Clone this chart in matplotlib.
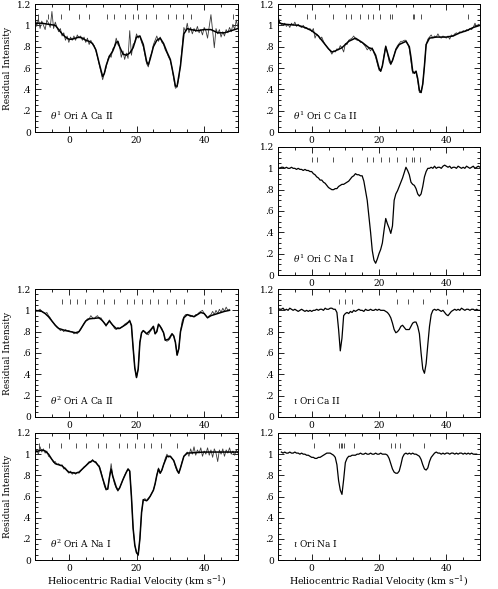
import numpy as np
import matplotlib
matplotlib.use('Agg')
import matplotlib.pyplot as plt
from matplotlib.ticker import MultipleLocator

plt.rcParams['font.family'] = 'DejaVu Serif'
plt.rcParams['mathtext.fontset'] = 'dejavuserif'
plt.rcParams['font.size'] = 6.5

# Sampling of the observed spectra (km/s)
V_STEP = 0.5

YTICKS = [0, 0.2, 0.4, 0.6, 0.8, 1.0, 1.2]
YTICK_LABELS = ['0', '.2', '.4', '.6', '.8', '1', '1.2']
XTICKS = [0, 20, 40]

# ---- theta1 Ori A  Ca II ----
t1a_ca_start = -10.0
t1a_ca_obs = [
    1.08, 0.99, 1.06, 0.97, 1.04, 1.00, 0.96, 1.05, 1.02, 0.98,
    1.13, 0.97, 1.03, 0.98, 0.94, 0.97, 0.90, 0.93, 0.86, 0.90,
    0.84, 0.89, 0.86, 0.90, 0.86, 0.91, 0.88, 0.90, 0.86, 0.89,
    0.84, 0.88, 0.82, 0.86, 0.82, 0.81, 0.76, 0.70, 0.63, 0.56,
    0.49, 0.55, 0.60, 0.68, 0.72, 0.70, 0.78, 0.80, 0.88, 0.82,
    0.80, 0.70, 0.76, 0.68, 0.74, 0.69, 0.95, 0.72, 0.82, 0.84,
    0.92, 0.88, 0.90, 0.84, 0.80, 0.72, 0.64, 0.61, 0.70, 0.74,
    0.82, 0.86, 0.90, 0.85, 0.89, 0.84, 0.82, 0.77, 0.74, 0.70,
    0.67, 0.60, 0.50, 0.41, 0.42, 0.50, 0.64, 0.80, 0.98, 0.94,
    1.02, 0.93, 0.98, 0.92, 0.97, 0.94, 0.99, 0.93, 0.96, 0.91,
    0.98, 0.95, 0.88, 0.99, 1.10, 0.95, 0.79, 0.97, 0.92, 0.96,
    0.89, 0.94, 0.90, 0.96, 0.93, 0.98, 0.94, 1.01, 0.96, 1.05,
    0.98]
t1a_ca_fit_v = [-10, -8, -6, -4, -3, -2, -1, 0, 1, 2, 3, 4, 5, 6, 7, 8, 9, 10,
                10.5, 11, 12, 13, 14, 14.5, 15, 16, 17, 18, 19, 20, 21, 22, 23,
                23.5, 24, 25, 26, 27, 28, 29, 30, 31, 31.5, 32, 33, 34, 35, 36,
                38, 40, 42, 44, 46, 48, 50]
t1a_ca_fit = [1.02, 1.02, 1.01, 1.00, 0.96, 0.92, 0.89, 0.87, 0.87, 0.88, 0.89,
              0.88, 0.86, 0.85, 0.83, 0.77, 0.64, 0.52, 0.55, 0.62, 0.71, 0.76,
              0.84, 0.85, 0.80, 0.73, 0.72, 0.74, 0.79, 0.89, 0.90, 0.82, 0.66,
              0.63, 0.68, 0.80, 0.86, 0.88, 0.83, 0.75, 0.68, 0.52, 0.43, 0.43,
              0.62, 0.92, 0.97, 0.96, 0.95, 0.96, 0.96, 0.93, 0.93, 0.95, 0.97]
t1a_ca_comp = [-9.2, -6.1, -2.4, 3.1, 6.0, 11.2, 13.4, 16.7, 18.9, 20.5, 22.8,
               25.9, 29.4, 31.6, 33.7, 36.1, 48.6]

# ---- theta1 Ori C  Ca II ----
t1c_ca_start = -10.0
t1c_ca_obs = [
    1.09, 1.03, 1.01, 1.00, 1.02, 0.99, 1.01, 0.98, 1.02, 1.00,
    1.03, 0.99, 1.01, 0.99, 0.98, 1.00, 0.97, 0.98, 0.96, 0.97,
    0.94, 0.97, 0.88, 0.92, 0.90, 0.87, 0.89, 0.85, 0.82, 0.80,
    0.78, 0.76, 0.73, 0.76, 0.75, 0.78, 0.77, 0.81, 0.79, 0.75,
    0.83, 0.82, 0.86, 0.87, 0.88, 0.90, 0.87, 0.86, 0.86, 0.84,
    0.84, 0.82, 0.80, 0.77, 0.79, 0.76, 0.79, 0.74, 0.70, 0.64,
    0.58, 0.57, 0.62, 0.72, 0.81, 0.74, 0.66, 0.63, 0.67, 0.72,
    0.78, 0.81, 0.83, 0.85, 0.85, 0.86, 0.86, 0.83, 0.78, 0.66,
    0.55, 0.56, 0.57, 0.48, 0.37, 0.37, 0.45, 0.62, 0.82, 0.87,
    0.89, 0.91, 0.88, 0.90, 0.89, 0.92, 0.89, 0.88, 0.90, 0.89,
    0.88, 0.90, 0.87, 0.91, 0.90, 0.92, 0.93, 0.92, 0.94, 0.93,
    0.95, 0.94, 0.96, 0.95, 0.97, 0.96, 0.98, 1.02, 0.99, 1.01,
    1.00]
t1c_ca_fit_v = [-10, -9.5, -8, -4, -2, 0, 2, 4, 5, 6, 7, 9, 11, 13, 15, 17, 18,
                19, 20, 20.5, 21, 22, 23, 23.5, 24, 25, 26, 28, 29, 29.5, 30,
                30.5, 31, 31.5, 32, 32.5, 33, 33.5, 34, 35, 37, 40, 42, 44, 46,
                48, 50]
t1c_ca_fit = [1.06, 1.02, 1.01, 1.00, 0.98, 0.95, 0.90, 0.82, 0.78, 0.75, 0.76,
              0.79, 0.85, 0.88, 0.84, 0.79, 0.78, 0.72, 0.60, 0.57, 0.62, 0.80,
              0.69, 0.64, 0.67, 0.77, 0.82, 0.85, 0.80, 0.70, 0.57, 0.55, 0.57,
              0.50, 0.39, 0.37, 0.45, 0.62, 0.82, 0.88, 0.89, 0.89, 0.90, 0.93,
              0.95, 0.98, 1.00]
t1c_ca_comp = [-1.5, 1.0, 6.4, 10.3, 11.6, 14.3, 16.6, 18.2, 20.2, 23.3, 23.8,
               30.0, 30.5, 32.5, 46.3]

# ---- theta1 Ori C  Na I ----
t1c_na_start = -10.0
t1c_na_obs = [
    1.01, 1.00, 1.01, 1.01, 1.00, 1.01, 1.00, 1.00, 1.01, 1.00,
    1.00, 0.99, 1.00, 0.99, 0.99, 0.98, 0.99, 0.98, 0.98, 0.97,
    0.97, 0.95, 0.94, 0.92, 0.91, 0.89, 0.89, 0.87, 0.86, 0.84,
    0.82, 0.81, 0.80, 0.80, 0.81, 0.81, 0.83, 0.84, 0.85, 0.85,
    0.86, 0.87, 0.88, 0.90, 0.92, 0.93, 0.95, 0.94, 0.94, 0.93,
    0.93, 0.88, 0.79, 0.70, 0.55, 0.40, 0.23, 0.14, 0.11, 0.15,
    0.20, 0.24, 0.30, 0.42, 0.53, 0.48, 0.44, 0.39, 0.46, 0.70,
    0.76, 0.79, 0.83, 0.87, 0.91, 0.96, 1.01, 0.98, 0.94, 0.87,
    0.85, 0.84, 0.81, 0.76, 0.74, 0.76, 0.83, 0.92, 0.97, 1.00,
    1.00, 1.01, 1.00, 1.02, 1.00, 1.01, 1.01, 1.00, 1.02, 1.03,
    1.02, 1.01, 1.02, 1.00, 1.01, 1.01, 1.00, 1.02, 1.01, 1.00,
    1.01, 1.00, 1.02, 1.01, 1.00, 1.01, 1.02, 1.00, 1.01, 1.02,
    1.01]
t1c_na_comp = [0.0, 1.5, 6.2, 12.0, 16.3, 18.2, 20.5, 22.9, 25.3, 27.9, 29.8,
               30.5, 32.3]

# ---- theta2 Ori A  Ca II ----
t2a_ca_start = -10.0
t2a_ca_obs = [
    1.01, 0.99, 1.00, 1.01, 0.99, 0.98, 0.97, 0.98, 0.95, 0.93,
    0.90, 0.88, 0.86, 0.84, 0.83, 0.81, 0.82, 0.80, 0.82, 0.81,
    0.81, 0.80, 0.80, 0.78, 0.79, 0.78, 0.80, 0.82, 0.85, 0.88,
    0.90, 0.92, 0.92, 0.95, 0.93, 0.92, 0.94, 0.95, 0.92, 0.93,
    0.90, 0.88, 0.85, 0.88, 0.91, 0.88, 0.86, 0.83, 0.82, 0.84,
    0.83, 0.84, 0.85, 0.87, 0.88, 0.89, 0.91, 0.85, 0.65, 0.46,
    0.37, 0.45, 0.70, 0.79, 0.81, 0.80, 0.78, 0.77, 0.80, 0.82,
    0.85, 0.78, 0.80, 0.87, 0.85, 0.83, 0.79, 0.72, 0.71, 0.72,
    0.74, 0.78, 0.76, 0.70, 0.58, 0.64, 0.80, 0.90, 0.94, 0.96,
    0.96, 0.95, 0.94, 0.95, 0.94, 0.96, 0.96, 0.98, 0.99, 1.00,
    0.97, 0.95, 0.93, 0.95, 0.96, 0.99, 0.96, 1.00, 0.97, 1.01,
    0.98, 1.02, 0.99, 1.03, 1.00, 1.01]
t2a_ca_fit_v = [-10, -8, -7, -6, -5, -4, -3, -1, 2, 3, 4, 5, 6, 9, 10, 11, 12,
                13, 14, 15, 17, 18, 18.5, 19, 19.5, 20, 20.5, 21, 21.5, 22, 23,
                24, 25, 25.5, 26, 26.5, 27, 28, 28.5, 29.5, 30.5, 31, 31.5, 32,
                32.5, 33, 34, 35, 37, 39, 40, 41, 42, 44, 46, 47.5]
t2a_ca_fit = [1.00, 0.99, 0.97, 0.94, 0.90, 0.86, 0.83, 0.81, 0.79, 0.80, 0.85,
              0.90, 0.92, 0.93, 0.90, 0.86, 0.90, 0.86, 0.83, 0.83, 0.87, 0.90,
              0.86, 0.65, 0.46, 0.37, 0.45, 0.70, 0.79, 0.81, 0.78, 0.81, 0.85,
              0.78, 0.80, 0.87, 0.85, 0.79, 0.72, 0.73, 0.78, 0.76, 0.70, 0.58,
              0.64, 0.80, 0.93, 0.96, 0.94, 0.98, 0.97, 0.93, 0.95, 0.97, 0.99,
              1.00]
t2a_ca_comp = [-2.0, 0.2, 2.4, 4.9, 8.3, 10.4, 13.4, 17.1, 19.2, 21.5, 23.9,
               26.3, 29.0, 31.7, 33.9, 40.0, 42.1]

# ---- iota Ori  Ca II ----
io_ca_start = -10.0
io_ca_obs = [
    1.02, 1.01, 1.01, 1.02, 1.00, 1.01, 1.00, 1.02, 1.01, 1.00,
    1.01, 1.00, 0.99, 1.00, 1.01, 1.00, 0.99, 1.00, 0.99, 1.00,
    0.99, 1.00, 1.00, 1.01, 1.00, 1.01, 1.01, 1.00, 1.02, 1.01,
    1.01, 1.02, 1.02, 1.01, 1.01, 0.98, 0.82, 0.62, 0.74, 0.95,
    0.97, 0.98, 0.97, 0.99, 0.98, 1.00, 0.99, 1.00, 1.01, 1.00,
    1.00, 0.99, 1.01, 1.00, 1.00, 1.01, 1.00, 1.00, 1.01, 1.00,
    1.01, 1.00, 1.00, 1.00, 0.99, 0.98, 0.96, 0.93, 0.88, 0.82,
    0.79, 0.80, 0.82, 0.85, 0.86, 0.84, 0.82, 0.82, 0.82, 0.85,
    0.88, 0.89, 0.89, 0.85, 0.78, 0.60, 0.45, 0.41, 0.50, 0.68,
    0.85, 0.96, 1.00, 1.01, 1.00, 1.01, 1.00, 0.99, 1.00, 0.98,
    0.96, 0.95, 0.97, 0.99, 1.00, 1.01, 1.00, 1.01, 1.00, 1.02,
    1.01, 1.00, 1.01, 1.01, 1.00, 1.01, 1.01, 1.00, 1.01, 1.00,
    1.00]
io_ca_comp = [8.2, 9.9, 12.0, 25.3, 28.6, 33.2, 40.2]

# ---- theta2 Ori A  Na I ----
t2a_na_start = -10.0
t2a_na_obs = [
    1.01, 1.04, 1.00, 1.07, 1.02, 1.05, 1.01, 1.03, 0.98, 0.97,
    0.95, 0.92, 0.93, 0.90, 0.91, 0.89, 0.90, 0.86, 0.87, 0.84,
    0.82, 0.84, 0.81, 0.83, 0.81, 0.83, 0.82, 0.84, 0.86, 0.88,
    0.89, 0.91, 0.93, 0.92, 0.95, 0.93, 0.93, 0.90, 0.89, 0.84,
    0.77, 0.70, 0.66, 0.67, 0.78, 0.91, 0.79, 0.72, 0.68, 0.65,
    0.68, 0.72, 0.76, 0.80, 0.83, 0.86, 0.84, 0.60, 0.30, 0.14,
    0.07, 0.04, 0.20, 0.45, 0.57, 0.58, 0.56, 0.57, 0.60, 0.63,
    0.66, 0.72, 0.80, 0.87, 0.82, 0.85, 0.90, 0.96, 1.00, 0.97,
    0.98, 0.96, 0.94, 0.88, 0.84, 0.82, 0.87, 0.93, 0.98, 1.00,
    1.02, 0.98, 1.05, 1.00, 1.07, 0.99, 1.04, 1.01, 1.06, 0.98,
    1.03, 1.00, 1.06, 0.99, 1.04, 0.97, 1.05, 1.01, 0.93, 1.04,
    1.00, 1.05, 0.98, 1.04, 1.01, 1.06, 1.00, 1.03, 0.99, 1.04,
    1.01]
t2a_na_fit_v = [-10, -8, -7, -6, -5, -4, -2, -1, 0, 2, 3, 4, 5, 6, 7, 8, 9, 10,
                11, 11.5, 12, 12.5, 13, 14, 14.5, 15, 16, 17, 17.5, 18, 18.5,
                19, 19.5, 20, 20.5, 21, 21.5, 22, 23, 24, 25, 25.5, 26, 26.5,
                27, 27.5, 28, 29, 30, 31, 32, 32.5, 33, 34, 35, 40, 45, 50]
t2a_na_fit = [1.02, 1.04, 1.03, 1.00, 0.95, 0.91, 0.89, 0.86, 0.83, 0.82, 0.83,
              0.86, 0.89, 0.92, 0.94, 0.92, 0.88, 0.77, 0.67, 0.67, 0.78, 0.86,
              0.79, 0.69, 0.66, 0.68, 0.76, 0.83, 0.86, 0.84, 0.60, 0.30, 0.14,
              0.07, 0.05, 0.20, 0.45, 0.57, 0.56, 0.60, 0.66, 0.72, 0.80, 0.86,
              0.82, 0.85, 0.90, 0.98, 0.98, 0.94, 0.85, 0.82, 0.87, 0.98, 1.01,
              1.02, 1.02, 1.02]
t2a_na_comp = [-8.8, -5.9, -2.4, 2.1, 5.1, 8.5, 10.9, 14.8, 17.3, 19.7, 22.1,
               24.4, 27.3, 31.9]

# ---- iota Ori  Na I ----
io_na_start = -9.0
io_na_obs = [
    1.02, 1.01, 1.02, 1.01, 1.01, 1.02, 1.01, 1.01, 1.02, 1.01,
    1.01, 1.00, 1.01, 1.00, 1.00, 0.99, 0.99, 0.98, 0.97, 0.97,
    0.96, 0.96, 0.97, 0.97, 0.98, 0.99, 1.00, 1.01, 1.01, 1.01,
    1.00, 0.99, 0.97, 0.90, 0.75, 0.66, 0.62, 0.76, 0.92, 0.96,
    0.98, 0.98, 0.99, 0.99, 0.99, 1.00, 1.00, 1.01, 1.00, 1.00,
    1.01, 1.00, 1.00, 1.01, 1.00, 1.00, 1.01, 1.00, 1.00, 1.01,
    1.00, 1.00, 1.00, 0.99, 0.96, 0.91, 0.86, 0.83, 0.82, 0.82,
    0.84, 0.90, 0.97, 1.00, 1.01, 1.00, 1.01, 1.00, 1.01, 1.00,
    1.00, 0.99, 0.98, 0.95, 0.90, 0.86, 0.85, 0.87, 0.93, 0.97,
    0.99, 1.01, 1.02, 1.01, 1.01, 1.00, 1.01, 1.00, 1.01, 1.01,
    1.00, 1.01, 1.01, 1.00, 1.01, 1.00, 1.01, 1.01, 1.00, 1.01,
    1.00, 1.01, 1.00, 1.01, 1.00, 1.00, 1.00]
io_na_comp = [0.8, 8.2, 8.6, 9.1, 9.7, 12.6, 23.6, 24.8, 26.1, 33.5]


def px_box(left, top, right, bottom, w=498, h=589):
    # pixel box -> figure fraction [x0, y0, width, height]
    return [left / w, 1 - bottom / h, (right - left) / w, (bottom - top) / h]


COLS = {'L': (35, 238), 'R': (278, 480)}
ROWS = [(4, 132), (147, 275), (289, 417), (433, 560)]


def setup_axes(ax, show_ylabel, show_xlabel):
    ax.set_xlim(-10, 50)
    ax.set_ylim(0, 1.2)
    ax.set_xticks(XTICKS)
    ax.xaxis.set_minor_locator(MultipleLocator(5))
    ax.set_yticks(YTICKS)
    ax.set_yticklabels(YTICK_LABELS)
    ax.yaxis.set_minor_locator(MultipleLocator(0.05))
    ax.tick_params(which='both', direction='in', top=True, right=True,
                   width=0.6, labelsize=6.5, pad=3)
    ax.tick_params(which='major', length=4)
    ax.tick_params(which='minor', length=2)
    for sp in ax.spines.values():
        sp.set_linewidth(0.7)
    if show_ylabel:
        ax.set_ylabel('Residual Intensity', fontsize=6.5)
        ax.yaxis.set_label_coords(-0.115, 0.5)
    if show_xlabel:
        ax.set_xlabel(r'Heliocentric Radial Velocity (km s$^{-1}$)', fontsize=6.8)
        ax.xaxis.set_label_coords(0.5, -0.105)


def draw_panel(ax, start, obs, comp, label, fit_v=None, fit=None):
    v = start + V_STEP * np.arange(len(obs))
    if fit is None:
        ax.plot(v, obs, color='black', lw=0.9)
    else:
        ax.plot(v, obs, color='#3a3a3a', lw=0.6)
        ax.plot(fit_v, fit, color='black', lw=1.1)
    ax.vlines(comp, 1.055, 1.105, color='#333333', lw=0.6)
    ax.text(-5.5, 0.15, label, fontsize=6.5, va='center', ha='left')


panels = [
    ('L', 0, t1a_ca_start, t1a_ca_obs, t1a_ca_comp, r'$\theta^1$ Ori A Ca II', t1a_ca_fit_v, t1a_ca_fit),
    ('R', 0, t1c_ca_start, t1c_ca_obs, t1c_ca_comp, r'$\theta^1$ Ori C Ca II', t1c_ca_fit_v, t1c_ca_fit),
    ('R', 1, t1c_na_start, t1c_na_obs, t1c_na_comp, r'$\theta^1$ Ori C Na I', None, None),
    ('L', 2, t2a_ca_start, t2a_ca_obs, t2a_ca_comp, r'$\theta^2$ Ori A Ca II', t2a_ca_fit_v, t2a_ca_fit),
    ('R', 2, io_ca_start, io_ca_obs, io_ca_comp, r'$\iota$ Ori Ca II', None, None),
    ('L', 3, t2a_na_start, t2a_na_obs, t2a_na_comp, r'$\theta^2$ Ori A Na I', t2a_na_fit_v, t2a_na_fit),
    ('R', 3, io_na_start, io_na_obs, io_na_comp, r'$\iota$ Ori Na I', None, None),
]

fig = plt.figure(figsize=(4.98, 5.89), dpi=100)
for col, row, start, obs, comp, label, fit_v, fit in panels:
    x0, x1 = COLS[col]
    y0, y1 = ROWS[row]
    ax = fig.add_axes(px_box(x0, y0, x1, y1))
    draw_panel(ax, start, obs, comp, label, fit_v, fit)
    setup_axes(ax, show_ylabel=(col == 'L'), show_xlabel=(row == 3))

fig.savefig('out.png', dpi=100)
